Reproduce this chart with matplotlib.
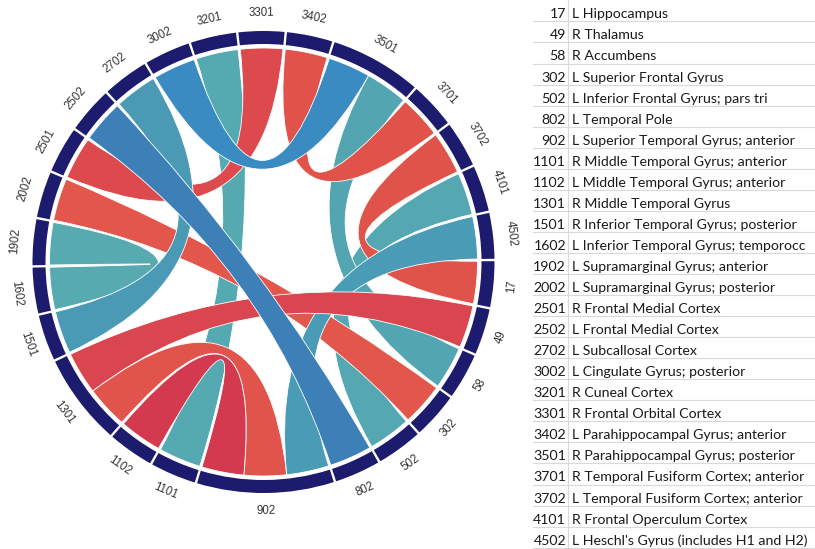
import numpy as np
import matplotlib.pyplot as plt
from matplotlib.path import Path
from matplotlib.patches import PathPatch, Wedge

# regions, clockwise around the circle starting at 3 o'clock
region_ids = ["17", "49", "58", "302", "502", "802", "902", "1101", "1102", "1301",
              "1501", "1602", "1902", "2002", "2501", "2502", "2702", "3002", "3201",
              "3301", "3402", "3501", "3701", "3702", "4101", "4502"]
region_names = ["L Hippocampus", "R Thalamus", "R Accumbens", "L Superior Frontal Gyrus",
                "L Inferior Frontal Gyrus; pars tri", "L Temporal Pole",
                "L Superior Temporal Gyrus; anterior", "R Middle Temporal Gyrus; anterior",
                "L Middle Temporal Gyrus; anterior", "R Middle Temporal Gyrus",
                "R Inferior Temporal Gyrus; posterior",
                "L Inferior Temporal Gyrus; temporocc",
                "L Supramarginal Gyrus; anterior", "L Supramarginal Gyrus; posterior",
                "R Frontal Medial Cortex", "L Frontal Medial Cortex", "L Subcallosal Cortex",
                "L Cingulate Gyrus; posterior", "R Cuneal Cortex", "R Frontal Orbital Cortex",
                "L Parahippocampal Gyrus; anterior", "R Parahippocampal Gyrus; posterior",
                "R Temporal Fusiform Cortex; anterior", "L Temporal Fusiform Cortex; anterior",
                "R Frontal Operculum Cortex", "L Heschl's Gyrus (includes H1 and H2)"]

# connections (drawn in this order)
link_a = ["1902", "3201", "4101", "3501", "1102", "1301", "3702", "3402",
          "2501", "302", "4502", "49", "1501", "3002", "2502"]
link_b = ["1602", "1101", "502", "58", "902", "902", "17", "3701",
          "3301", "2002", "902", "1301", "2702", "3501", "802"]
link_colors = ["#57aab0", "#55a9b0", "#55a8b1", "#53a6b1", "#d43a4f", "#e0544b",
               "#e0534a", "#e0524a", "#dd4a4d", "#e2564b", "#4a9bb6", "#d9464f",
               "#4a9ab5", "#3a8bc1", "#3d80b8"]

band_color = "#1c1b6e"

cx, cy = 263.5, 262.0
r_out, band_w, r_chord = 231, 13, 214
gap = 0.6
start = 89.5 + gap / 2


def pt(b, r):
    t = np.radians(b)
    return (cx + r * np.sin(t), cy - r * np.cos(t))


# number of link ends per region -> arc size
n_units = {r: 0 for r in region_ids}
for a, b in zip(link_a, link_b):
    n_units[a] += 1
    n_units[b] += 1
unit = (360 - gap * len(region_ids)) / sum(n_units.values())

seg = {}
b = start
for r in region_ids:
    seg[r] = (b, b + n_units[r] * unit)
    b += n_units[r] * unit + gap
mid = {r: (s + e) / 2 for r, (s, e) in seg.items()}

# order the ends inside each region by how far (clockwise) the partner is
ends = {r: [] for r in region_ids}
for i, (a, b) in enumerate(zip(link_a, link_b)):
    ends[a].append((i, b))
    ends[b].append((i, a))
slot = {}
for r, lst in ends.items():
    lst.sort(key=lambda e: -((mid[e[1]] - mid[r]) % 360))
    for k, (i, other) in enumerate(lst):
        s0 = seg[r][0] + k * unit
        slot[(i, r)] = (s0, s0 + unit)


def ribbon(a0, a1, b0, b1, r):
    verts, codes = [], []
    for k, t in enumerate(np.linspace(a0, a1, 40)):
        verts.append(pt(t, r))
        codes.append(Path.MOVETO if k == 0 else Path.LINETO)
    verts += [(cx, cy), pt(b0, r)]
    codes += [Path.CURVE3, Path.CURVE3]
    for t in np.linspace(b0, b1, 40)[1:]:
        verts.append(pt(t, r))
        codes.append(Path.LINETO)
    verts += [(cx, cy), pt(a0, r), pt(a0, r)]
    codes += [Path.CURVE3, Path.CURVE3, Path.CLOSEPOLY]
    return Path(verts, codes)


fig = plt.figure(figsize=(8.15, 5.49), dpi=100)
ax = fig.add_axes([0, 0, 1, 1])
ax.set_xlim(0, 815)
ax.set_ylim(549, 0)
ax.axis("off")

# ----------- CHORDS -----------
for i, (a, b) in enumerate(zip(link_a, link_b)):
    a0, a1 = slot[(i, a)]
    b0, b1 = slot[(i, b)]
    ax.add_patch(PathPatch(ribbon(a0, a1, b0, b1, r_chord), facecolor=link_colors[i],
                           edgecolor="white", linewidth=0.6, zorder=2 + i * 0.01))

# ----------- OUTER BAND + LABELS -----------
for r in region_ids:
    s, e = seg[r]
    ax.add_patch(Wedge((cx, cy), r_out, s - 90, e - 90, width=band_w,
                       facecolor=band_color, edgecolor="none", zorder=3))
    m = mid[r]
    rot = -m
    if 90 < m % 360 < 270:
        rot += 180
    lx, ly = pt(m, 249)
    ax.text(lx, ly, r, rotation=rot, rotation_mode="anchor", ha="center", va="center",
            fontsize=8.3, family="Liberation Sans", color="#333333")

# ----------- TABLE -----------
row_h = 21.05
ax.plot([568, 568], [0, 549], color="#d9d9d9", lw=0.8)
for i, (rid, name) in enumerate(zip(region_ids, region_names)):
    y0 = 0.35 + i * row_h
    ax.plot([533, 815], [y0 + row_h, y0 + row_h], color="#d9d9d9", lw=0.8)
    ax.text(566, y0 + 18, rid, ha="right", va="baseline", fontsize=10.2,
            family="Lato", color="#1a1a1a")
    ax.text(572, y0 + 18, name, ha="left", va="baseline", fontsize=10.2,
            family="Lato", color="#1a1a1a")

fig.savefig("out.png", dpi=100)
